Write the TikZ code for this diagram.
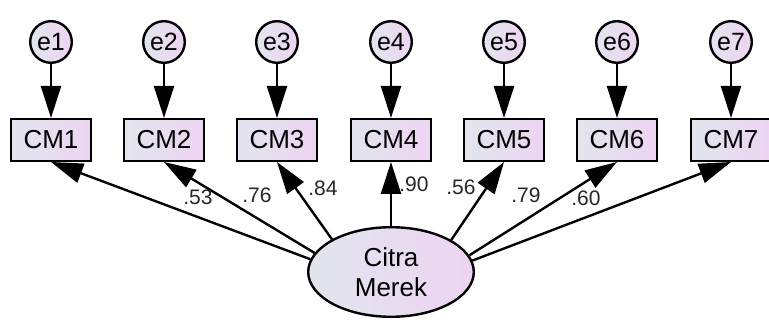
\documentclass[tikz,border=0pt]{standalone}
\usepackage{fontspec}
\setmainfont{Liberation Sans}
\usetikzlibrary{shapes.geometric,arrows.meta}

\definecolor{fillL}{HTML}{E2E5EE}
\definecolor{fillR}{HTML}{EDD4F2}

\begin{document}
\begin{tikzpicture}[x=1pt,y=-1pt,
  every node/.style={inner sep=0pt},
  grad/.style={left color=fillL,right color=fillR,draw=black,line width=2.4pt},
  indicator/.style={grad,rectangle,minimum width=79.6pt,minimum height=41.6pt,
    font=\fontsize{26}{30}\selectfont},
  errterm/.style={grad,circle,minimum size=41.6pt,font=\fontsize{25}{28}\selectfont},
  latent/.style={grad,ellipse,minimum width=165.6pt,minimum height=89.6pt,
    align=center,font=\fontsize{26}{30}\selectfont},
  regpath/.style={line width=2.4pt,-{Triangle[length=32pt,width=20pt]}},
  loading/.style={font=\fontsize{21}{24}\selectfont,text=black!85}
]
\useasboundingbox (0,0) rectangle (769,320);

% error terms and observed indicators
\foreach \i/\x in {1/51,2/164,3/277,4/391,5/504,6/617,7/731}{
  \node[errterm] (e\i) at (\x,42) {e\i};
  \node[indicator] (cm\i) at (\x,140) {CM\i};
  \draw[regpath] (e\i) -- (cm\i);
}

% latent construct
\node[latent] (cm) at (391,272) {Citra\\Merek};

% factor loadings
\draw[regpath] (cm.171.7) -- (cm1.south);
\draw[regpath] (cm.166)   -- (cm2.south);
\draw[regpath] (cm.151.6) -- (cm3.south);
\draw[regpath] (cm.90)    -- (cm4.south);
\draw[regpath] (cm.28)    -- (cm5.south);
\draw[regpath] (cm.12.7)  -- (cm6.south);
\draw[regpath] (cm.8.2)   -- (cm7.south);

\node[loading] (l1) at (198,197) {.53};
\node[loading] (l2) at (257,195) {.76};
\node[loading] (l3) at (323,188) {.84};
\node[loading] (l4) at (414,184) {.90};
\node[loading] (l5) at (461,187) {.56};
\node[loading] (l6) at (526,195) {.79};
\node[loading] (l7) at (586,198) {.60};
\end{tikzpicture}
\end{document}
